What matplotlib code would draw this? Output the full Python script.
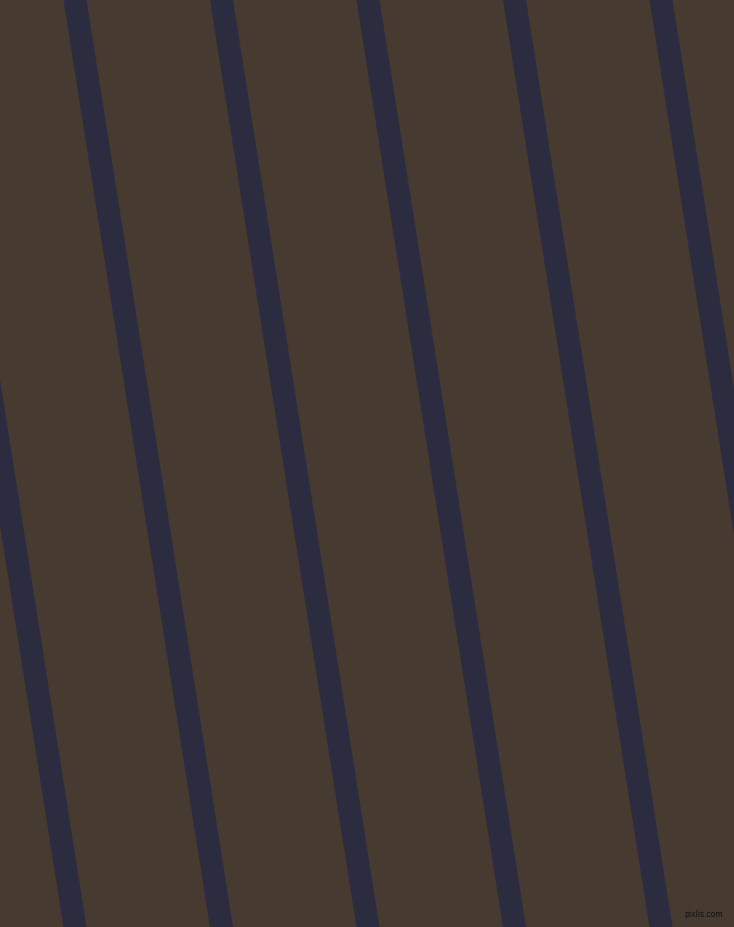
import matplotlib
matplotlib.use("Agg")
import matplotlib.pyplot as plt

W, H = 734, 927

# stripe centre x at the top edge and at the bottom edge
stripe_top = [-71.5, 75, 221.5, 368, 514.5, 661]
stripe_bottom = [75, 221.5, 368, 514.5, 661, 807.5]
stripe_width = 23

bg_color = "#463a31"
stripe_color = "#2b2c3f"

fig = plt.figure(figsize=(W / 100, H / 100), dpi=100)
fig.patch.set_facecolor(bg_color)
ax = fig.add_axes([0, 0, 1, 1])
ax.set_facecolor(bg_color)
ax.set_xlim(0, W)
ax.set_ylim(H, 0)
ax.axis("off")

half = stripe_width / 2
for xt, xb in zip(stripe_top, stripe_bottom):
    ax.fill([xt - half, xt + half, xb + half, xb - half],
            [0, 0, H, H], color=stripe_color, lw=0)

ax.text(W - 11, H - 10, "pixlis.com", fontsize=5.5, color="#111111",
        ha="right", va="baseline", family="DejaVu Sans")

fig.savefig("out.png", dpi=100, facecolor=bg_color)
